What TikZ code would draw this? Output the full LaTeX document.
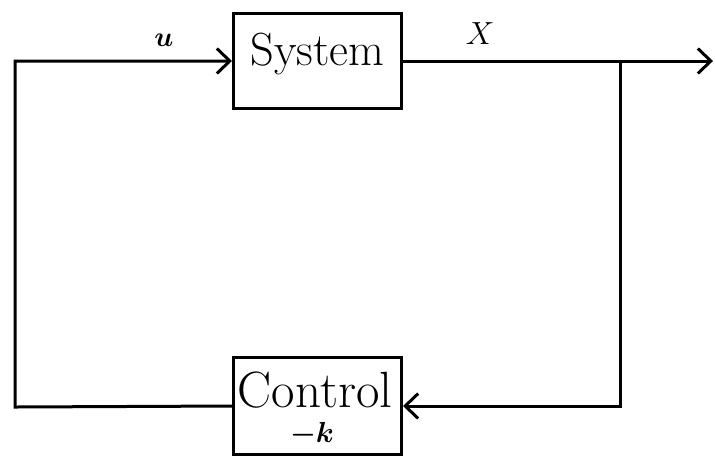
\RequirePackage{fix-cm}
\documentclass[tikz,border=0pt]{standalone}
\usepackage{amsmath}
\usetikzlibrary{arrows.meta}

\tikzset{
  block/.style={draw, line width=1.5pt, rectangle, inner sep=0pt,
    minimum width=84pt},
  wire/.style={line width=1.5pt},
  feed/.style={wire, -{Straight Barb[length=6.5pt,width=12.5pt,line width=1.5pt]}},
  sig/.style={inner sep=0pt},
  caption/.style={inner sep=0pt, anchor=base}
}

\begin{document}
\begin{tikzpicture}[x=0.5pt, y=-0.5pt]
  \useasboundingbox (0,0) rectangle (715,456);

  % blocks
  \node[block, minimum height=47.5pt, text height=17pt, text depth=13pt]
    (sys) at (317.5,61) {\fontsize{23.2}{23.2}\selectfont System};
  \node[block, minimum height=48.5pt] (ctl) at (317.5,406) {};
  \node[caption] (ctltxt) at (315,407)
    {\fontsize{25.5}{25.5}\selectfont Control};
  \node[caption] (gain) at (312,442)
    {\fontsize{14.5}{14.5}\selectfont$\boldsymbol{-k}$};

  % routing points
  \coordinate (split) at (620,61);
  \coordinate (out)   at (713,61);
  \coordinate (lb)    at (15,407);
  \coordinate (lt)    at (15,61);

  % signal labels
  \node[sig] (lu) at (164,40) {\fontsize{14}{14}\selectfont$\boldsymbol{u}$};
  \node[sig] (lx) at (480,34) {\fontsize{16}{16}\selectfont$X$};

  % connectors
  \draw[feed] (sys.east) -- (out);
  \draw[feed] (split) |- (ctl.east);
  \draw[feed] (ctl.west) -- (lb) -- (lt) -- (sys.west);
\end{tikzpicture}
\end{document}
